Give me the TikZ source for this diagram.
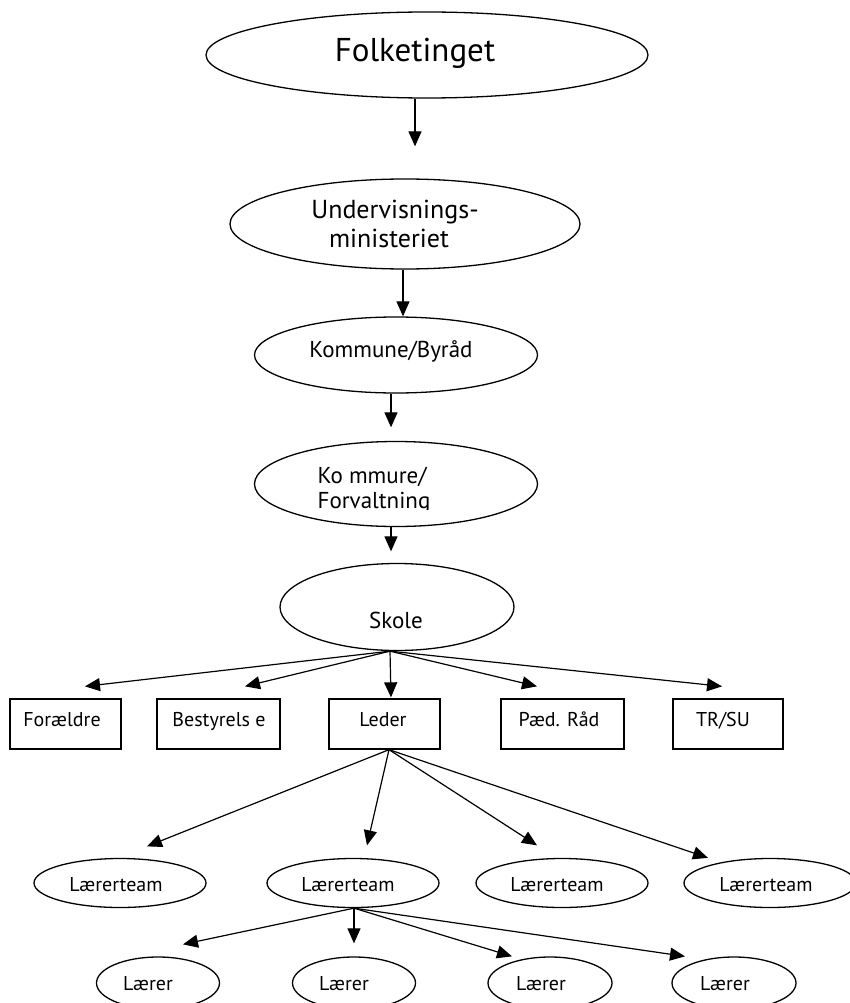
\documentclass[tikz,border=0pt]{standalone}
\usepackage{fontspec}
\setmainfont{PT Sans}
\usetikzlibrary{shapes.geometric,arrows.meta}
\begin{document}
\begin{tikzpicture}[x=1pt,y=-1pt,
  line width=1.3pt,
  ell/.style={draw,ellipse,inner sep=0pt},
  bx/.style={draw,rectangle,inner sep=0pt},
  txt/.style={inner sep=0pt,anchor=base},
  arr/.style={-{Triangle[length=15pt,width=13pt]},line width=1.2pt},
  fa/.style={font=\fontsize{33}{36}\selectfont},
  fb/.style={font=\fontsize{26}{29}\selectfont},
  fc/.style={font=\fontsize{23}{26}\selectfont},
  fd/.style={font=\fontsize{20}{24}\selectfont}]
\useasboundingbox (0,0) rectangle (850,1003);
% ellipses
\node[ell,minimum width=442pt,minimum height=86pt] (folk) at (427,55) {};
\node[ell,minimum width=350pt,minimum height=90pt] (und) at (405,224) {};
\node[ell,minimum width=283pt,minimum height=76pt] (komm) at (396,355) {};
\node[ell,minimum width=283pt,minimum height=85pt] (kofo) at (396,484) {};
\node[ell,minimum width=234pt,minimum height=87pt] (skole) at (397,607) {};
% texts
\node[txt,fa] (folkT) at (415,62) {Folketinget};
\node[txt,fb] (undT1) at (395,218) {Undervisnings-};
\node[txt,fb] (undT2) at (389,247) {ministeriet};
\node[txt,fc] (kommT) at (391,357) {Kommune/Byråd};
\node[txt,fc,anchor=base west] (kofoT1) at (317,483) {Ko mmure/};
\begin{scope}
\clip (250,440) rectangle (540,509.5);
\node[txt,fc,anchor=base west] (kofoT2) at (317,508) {Forvaltning};
\end{scope}
\node[txt,fc] (skoleT) at (396,628) {Skole};
% boxes
\node[bx,minimum width=111pt,minimum height=50pt] (fora) at (65.5,724) {};
\node[bx,minimum width=123pt,minimum height=50pt] (best) at (218.5,724) {};
\node[bx,minimum width=111pt,minimum height=50pt] (leder) at (384.5,724) {};
\node[bx,minimum width=123pt,minimum height=50pt] (paed) at (562.5,724) {};
\node[bx,minimum width=110pt,minimum height=50pt] (trsu) at (728,724) {};
\node[txt,fd] (foraT) at (62,726) {Forældre};
\node[txt,fd] (bestT) at (219,726) {Bestyrels e};
\node[txt,fd] (lederT) at (383,726) {Leder};
\node[txt,fd] (paedT) at (559,726) {Pæd. Råd};
\node[txt,fd] (trsuT) at (723,726) {TR/SU};
% teams
\node[ell,minimum width=172pt,minimum height=49pt] (lt1) at (120,883) {};
\node[ell,minimum width=172pt,minimum height=49pt] (lt2) at (353,883) {};
\node[ell,minimum width=172pt,minimum height=49pt] (lt3) at (562,883) {};
\node[ell,minimum width=172pt,minimum height=49pt] (lt4) at (770,883) {};
\node[txt,fd] (lt1T) at (116,891) {Lærerteam};
\node[txt,fd] (lt2T) at (348,891) {Lærerteam};
\node[txt,fd] (lt3T) at (557,891) {Lærerteam};
\node[txt,fd] (lt4T) at (766,891) {Lærerteam};
% teachers
\node[ell,minimum width=123pt,minimum height=52pt] (l1) at (158,983) {};
\node[ell,minimum width=123pt,minimum height=52pt] (l2) at (354,983) {};
\node[ell,minimum width=124pt,minimum height=52pt] (l3) at (550,983) {};
\node[ell,minimum width=124pt,minimum height=52pt] (l4) at (734,983) {};
\node[txt,fd] (l1T) at (148,990) {Lærer};
\node[txt,fd] (l2T) at (344,990) {Lærer};
\node[txt,fd] (l3T) at (541,990) {Lærer};
\node[txt,fd] (l4T) at (725,990) {Lærer};
% arrows
\draw[arr,shorten >=32pt] ([xshift=-12pt]folk.south) -- ([xshift=10pt]und.north);
\draw[arr] ([xshift=-2pt]und.south) -- ([xshift=7pt]komm.north);
\draw[arr,shorten >=13.5pt] ([xshift=-5pt]komm.south) -- ([xshift=-5pt]kofo.north);
\draw[arr,shorten >=11.5pt] ([xshift=-5pt]kofo.south) -- ([xshift=-6pt]skole.north);
\coordinate (sk) at ([xshift=-7pt]skole.south);
\draw[arr] (sk) -- ([xshift=19.5pt,yshift=12pt]fora.north);
\draw[arr] (sk) -- ([xshift=26.5pt,yshift=12pt]best.north);
\draw[arr] (sk) -- ([xshift=6.5pt,yshift=1pt]leder.north);
\draw[arr] (sk) -- ([xshift=-25.5pt,yshift=12pt]paed.north);
\draw[arr] (sk) -- ([xshift=-6pt,yshift=12pt]trsu.north);
\coordinate (ld) at ([xshift=4.5pt]leder.south);
\draw[arr] (ld) -- ([xshift=27pt,yshift=11.5pt]lt1.north);
\draw[arr] (ld) -- ([xshift=14pt,yshift=12.5pt]lt2.north);
\draw[arr] (ld) -- ([xshift=-25pt,yshift=12.5pt]lt3.north);
\draw[arr] (ld) -- ([xshift=-62pt,yshift=0pt]lt4.north);
\coordinate (tm) at ([xshift=1pt]lt2.south);
\draw[arr] (tm) -- ([xshift=25pt,yshift=12pt]l1.north);
\draw[arr] (tm) -- ([xshift=0pt,yshift=13pt]l2.north);
\draw[arr] (tm) -- ([xshift=-38pt]l3.north);
\draw[arr] (tm) -- ([xshift=-49pt]l4.north);
\end{tikzpicture}
\end{document}
